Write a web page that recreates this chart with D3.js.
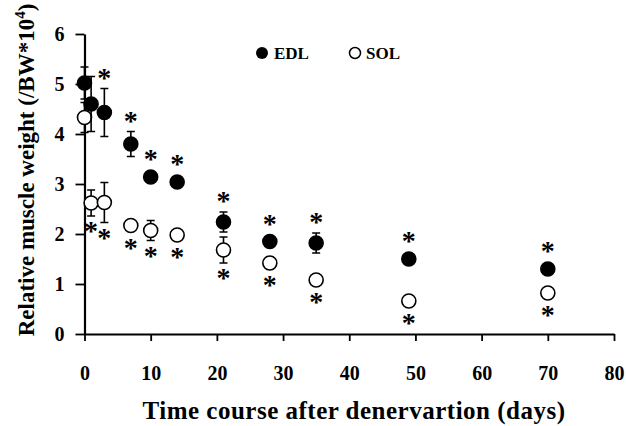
<!DOCTYPE html>
<html>
<head>
<meta charset="utf-8">
<script src="https://cdn.jsdelivr.net/npm/d3@7"></script>
<style>
  body { margin: 0; background: #fff; }
  svg text { font-family: "Liberation Serif", "Times New Roman", serif; font-weight: bold; fill: #000; }
</style>
</head>
<body>
<svg id="chart" width="626" height="426"></svg>
<script>
// days after denervation
var days = [0, 1, 3, 7, 10, 14, 21, 28, 35, 49, 70];
// EDL (filled) mean and SE
var edlMean = [5.02, 4.6, 4.43, 3.8, 3.14, 3.04, 2.24, 1.85, 1.82, 1.5, 1.3];
var edlErr  = [0.32, 0.55, 0.48, 0.25, 0.1, 0.08, 0.2, 0.1, 0.2, 0.05, 0.1];
var edlSig  = [false, false, true, true, true, true, true, true, true, true, true];
// SOL (open) mean and SE
var solMean = [4.33, 2.62, 2.63, 2.17, 2.07, 1.98, 1.68, 1.42, 1.08, 0.66, 0.82];
var solErr  = [0.3, 0.26, 0.4, 0.05, 0.2, 0.04, 0.26, 0.12, 0.05, 0.03, 0.03];
var solSig  = [false, true, true, true, true, true, true, true, true, true, true];

var xTicks = [0, 10, 20, 30, 40, 50, 60, 70, 80];
var yTicks = [0, 1, 2, 3, 4, 5, 6];

(function() {
    var svg = d3.select("#chart"),
        r = 7,
        cap = 4;

    var x = d3.scaleLinear().domain([0, 80]).range([84.5, 614]),
        y = d3.scaleLinear().domain([0, 6]).range([334, 34]);

    // axes
    var gx = svg.append("g")
        .attr("transform", "translate(0," + y(0) + ")")
        .call(d3.axisBottom(x).tickValues(xTicks).tickFormat(d3.format("d"))
            .tickSize(7).tickSizeOuter(0).tickPadding(25));
    var gy = svg.append("g")
        .attr("transform", "translate(" + x(0) + ",0)")
        .call(d3.axisLeft(y).tickValues(yTicks).tickFormat(d3.format("d"))
            .tickSize(9).tickSizeOuter(0).tickPadding(11));

    [gx, gy].forEach(function(g) {
        g.select(".domain").attr("stroke", "#000").attr("stroke-width", 2.2);
        g.selectAll(".tick line").attr("stroke", "#000").attr("stroke-width", 1.8);
        g.selectAll(".tick text")
            .style("font-family", '"Liberation Serif", serif')
            .style("font-weight", "bold")
            .style("font-size", "20px")
            .attr("fill", "#000");
    });

    function series(mean, err, sig, filled, above) {
        var rows = days.map(function(d, i) {
            return { day: d, m: mean[i], e: err[i], s: sig[i] };
        });
        var g = svg.append("g");

        // error bars
        g.selectAll("path.err").data(rows).enter().append("path")
            .attr("class", "err")
            .attr("fill", "none")
            .attr("stroke", "#000")
            .attr("stroke-width", 1.6)
            .attr("d", function(d) {
                var cx = x(d.day), t = y(d.m + d.e), b = y(d.m - d.e);
                return "M" + cx + "," + t + "V" + b +
                    "M" + (cx - cap) + "," + t + "H" + (cx + cap) +
                    "M" + (cx - cap) + "," + b + "H" + (cx + cap);
            });

        g.selectAll("circle").data(rows).enter().append("circle")
            .attr("cx", function(d) { return x(d.day); })
            .attr("cy", function(d) { return y(d.m); })
            .attr("r", r)
            .attr("fill", filled ? "#000" : "#fff")
            .attr("stroke", "#000")
            .attr("stroke-width", 1.6);

        // significance stars
        g.selectAll("text.star").data(rows.filter(function(d) { return d.s; })).enter().append("text")
            .attr("class", "star")
            .attr("x", function(d) { return x(d.day); })
            .attr("y", function(d) {
                if (above) return Math.min(y(d.m + d.e), y(d.m) - r) - 2;
                return Math.max(y(d.m - d.e), y(d.m) + r) + 24;
            })
            .attr("text-anchor", "middle")
            .style("font-size", "28px")
            .text("*");
    }

    series(solMean, solErr, solSig, false, false);
    series(edlMean, edlErr, edlSig, true, true);

    // legend
    var leg = svg.append("g");
    leg.append("circle").attr("cx", 262).attr("cy", 53).attr("r", 6).attr("fill", "#000");
    leg.append("text").attr("x", 274).attr("y", 59).style("font-size", "17px").text("EDL");
    leg.append("circle").attr("cx", 355).attr("cy", 53).attr("r", 5.5).attr("fill", "#fff")
        .attr("stroke", "#000").attr("stroke-width", 1.5);
    leg.append("text").attr("x", 366).attr("y", 59).style("font-size", "17px").text("SOL");

    // axis titles
    svg.append("text")
        .attr("x", 354).attr("y", 419)
        .attr("text-anchor", "middle")
        .style("font-size", "25px")
        .style("letter-spacing", "0.5px")
        .text("Time course after denervartion (days)");

    var yt = svg.append("text")
        .attr("transform", "translate(34,170) rotate(-90)")
        .attr("text-anchor", "middle")
        .style("font-size", "23px");
    yt.append("tspan").text("Relative muscle weight (/BW*10");
    yt.append("tspan").attr("dy", -9).style("font-size", "15px").text("4");
    yt.append("tspan").attr("dy", 9).text(")");
})();
</script>
</body>
</html>
